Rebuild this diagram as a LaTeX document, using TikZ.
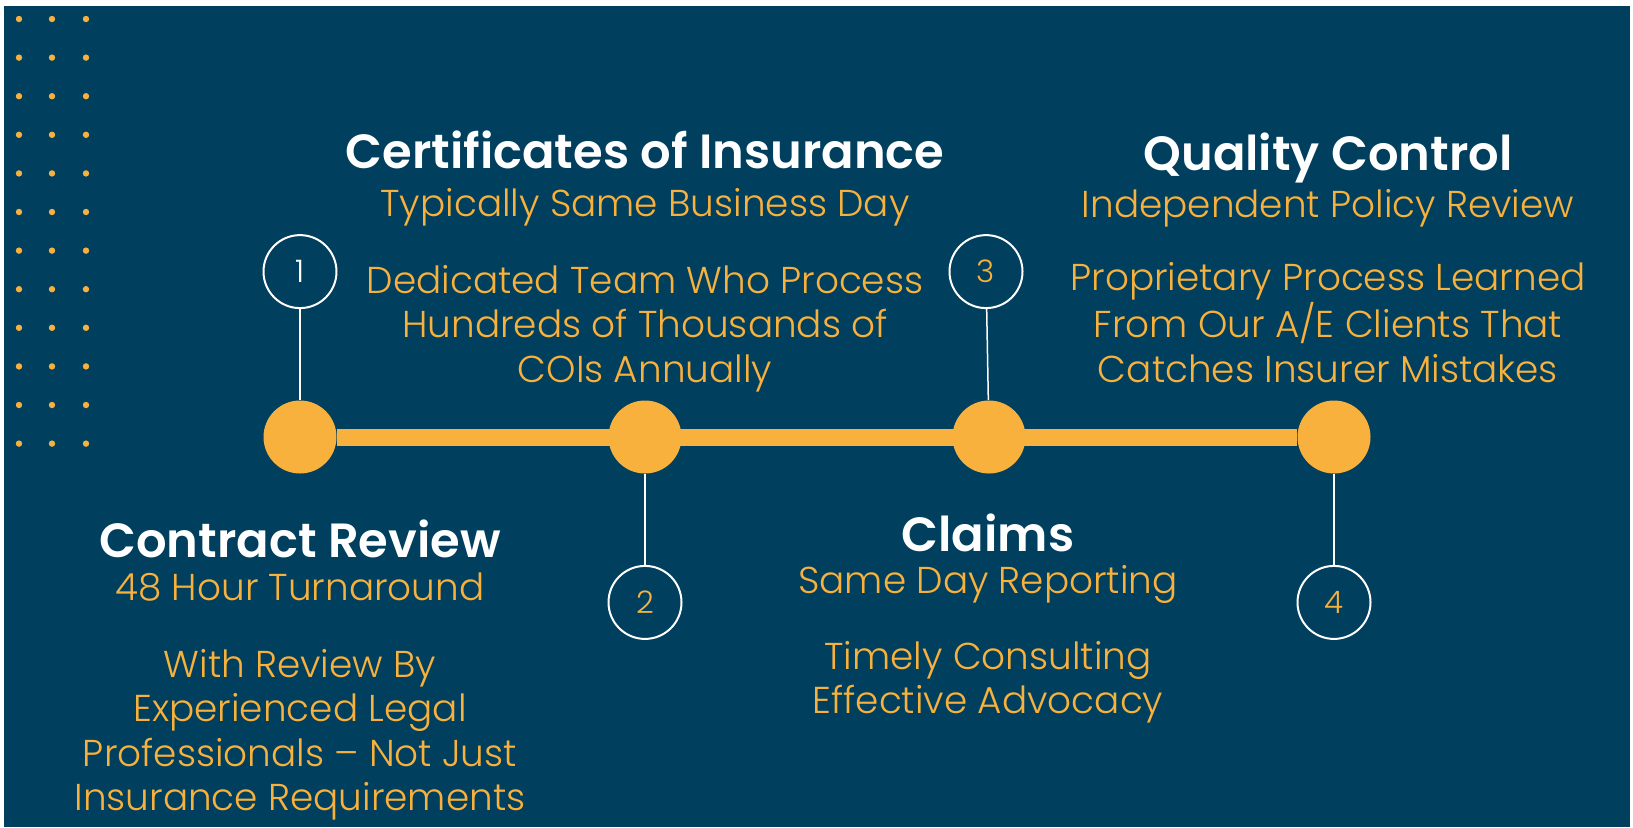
\documentclass[tikz,border=0pt]{standalone}
\usepackage{fontspec}
\setmainfont{Poppins}
\newfontfamily\poplight{Poppins Light}
\newfontfamily\popsemi{Poppins SemiBold}
\usetikzlibrary{positioning}
\definecolor{navy}{HTML}{003F5E}
\definecolor{gold}{HTML}{F8B13C}
\tikzset{
    title/.style={text=white, font=\popsemi\fontsize{24}{28}\selectfont, anchor=base, inner sep=0pt},
    sub/.style={text=gold, font=\poplight\fontsize{18.7}{22.3}\selectfont, anchor=base, inner sep=0pt},
    body/.style={sub, align=center},
    stop/.style={circle, fill=gold, minimum size=36.5pt, inner sep=0pt},
    num/.style={circle, draw=white, line width=1pt, minimum size=36.5pt, inner sep=0pt,
        text=gold, font=\poplight\fontsize{15.5}{18}\selectfont},
    conn/.style={draw=white, line width=0.75pt},
}
\begin{document}
\begin{tikzpicture}[x=0.5pt, y=-0.5pt]
    \useasboundingbox (0,0) rectangle (1633,827);
    \fill[white] (0,0) rectangle (1633,827);
    \fill[navy] (4,6) rectangle (1630,827);
    % dot grid
    \foreach \i in {0,...,11}
        \foreach \x in {19,52,86}
            \fill[gold] (\x,19+38.6*\i) circle (1.6pt);
    % timeline stops
    \node[stop] (d1) at (300,437) {};
    \node[stop] (d2) at (645,437) {};
    \node[stop] (d3) at (989,437) {};
    \node[stop] (d4) at (1334,437) {};
    \draw[gold, line width=8.5pt] (d1) -- (d4);
    % numbered circles
    \node[num, text=white, above=45.5pt of d1] (n1) {1};
    \node[num, below=45.5pt of d2] (n2) {2};
    \node[num, above=45.5pt of d3, xshift=-1.5pt] (n3) {3};
    \node[num, below=45.5pt of d4] (n4) {4};
    \draw[conn] (n1) -- (d1);
    \draw[conn] (n2) -- (d2);
    \draw[conn] (n3) -- (d3);
    \draw[conn] (n4) -- (d4);
    % step 1
    \node[title] (t1) at (300,557) {Contract Review};
    \node[sub, below=21.5pt of t1.base, anchor=base] (s1) {48 Hour Turnaround};
    \node[body, below=105.4pt of s1.base, anchor=base] (b1) {With Review By\\Experienced Legal\\Professionals – Not Just\\Insurance Requirements};
    % step 2
    \node[title] (t2) at (645,168) {Certificates of Insurance};
    \node[sub, below=24pt of t2.base, anchor=base] (s2) {Typically Same Business Day};
    \node[body, below=83.1pt of s2.base, anchor=base] (b2) {Dedicated Team Who Process\\Hundreds of Thousands of\\COIs Annually};
    % step 3
    \node[title] (t3) at (988,551) {Claims};
    \node[sub, below=21pt of t3.base, anchor=base] (s3) {Same Day Reporting};
    \node[body, below=60.3pt of s3.base, anchor=base] (b3) {Timely Consulting\\Effective Advocacy};
    % step 4
    \node[title] (t4) at (1328,170) {Quality Control};
    \node[sub, below=23.5pt of t4.base, anchor=base] (s4) {Independent Policy Review};
    \node[body, below=82.6pt of s4.base, anchor=base] (b4) {Proprietary Process Learned\\From Our A/E Clients That\\Catches Insurer Mistakes};
\end{tikzpicture}
\end{document}
